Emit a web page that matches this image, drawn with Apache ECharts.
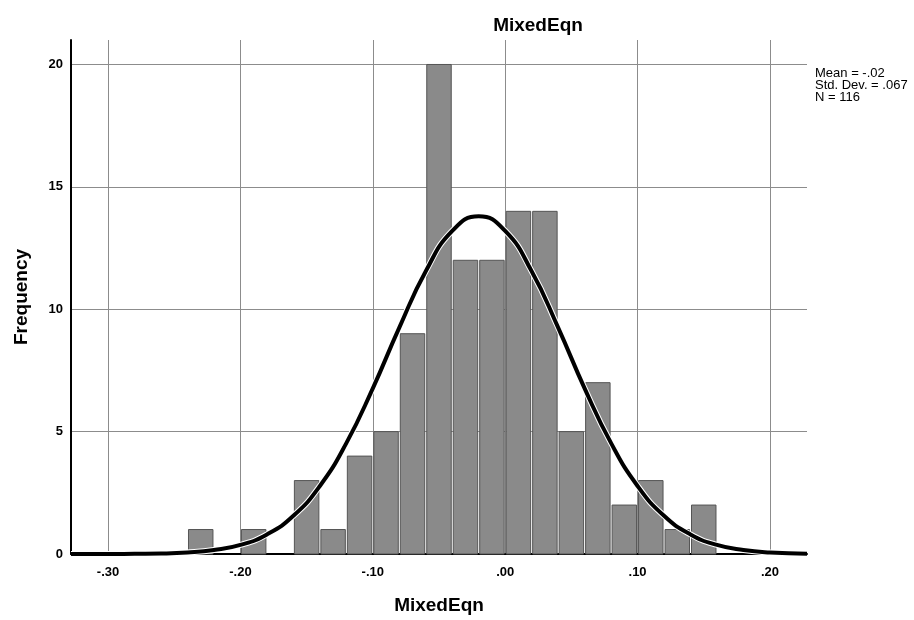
<!doctype html>
<html lang="en">

<head>
	<meta charset="UTF-8">
	<title>MixedEqn</title>
	<script src="https://cdn.jsdelivr.net/npm/echarts@6/dist/echarts.min.js"></script>
	<style>
		html, body { margin: 0; padding: 0; background: #fff; }
		#main { width: 914px; height: 620px; }
	</style>
</head>

<body>
	<div id="main"></div>
	<script type="text/javascript">
		// histogram bins (left edge of each bin, width 0.02) and frequencies
		var binWidth = 0.02;
		var binLefts = [-0.24, -0.22, -0.20, -0.18, -0.16, -0.14, -0.12, -0.10, -0.08, -0.06,
			-0.04, -0.02, 0.00, 0.02, 0.04, 0.06, 0.08, 0.10, 0.12, 0.14];
		var counts = [1, 0, 1, 0, 3, 1, 4, 5, 9, 20,
			12, 12, 14, 14, 5, 7, 2, 3, 1, 2];

		// normal curve
		var curveX = [-0.328, -0.30, -0.28, -0.26, -0.24, -0.22, -0.20, -0.18, -0.16, -0.14, -0.12,
			-0.10, -0.08, -0.06, -0.04, -0.02, 0.00, 0.02, 0.04, 0.06, 0.08,
			0.10, 0.12, 0.14, 0.16, 0.18, 0.20, 0.228];
		var curveY = [0.00, 0.00, 0.01, 0.02, 0.06, 0.16, 0.37, 0.80, 1.56, 2.78, 4.53,
			6.77, 9.25, 11.55, 13.2, 13.8, 13.2, 11.55, 9.25, 6.77, 4.53,
			2.78, 1.56, 0.80, 0.37, 0.16, 0.06, 0.01];

		var statsLines = ['Mean = -.02', 'Std. Dev. = .067', 'N = 116'];

		var barData = [];
		for (var i = 0; i < binLefts.length; i++) {
			if (counts[i] > 0) barData.push([binLefts[i], binLefts[i] + binWidth, counts[i]]);
		}
		var curveData = curveX.map(function (x, i) { return [x, curveY[i]]; });

		var fmtX = function (v) {
			var s = (Math.round(v * 100) / 100).toFixed(2);
			return s.replace('0.', '.');
		};

		var myChart = echarts.init(document.getElementById('main'));
		var option = {
			backgroundColor: '#fff',
			animation: false,
			textStyle: { fontFamily: 'Liberation Sans, Arial, sans-serif' },
			title: {
				text: 'MixedEqn',
				left: 533,
				top: 11,
				textAlign: 'center',
				textStyle: { fontSize: 19, fontWeight: 'bold', color: '#000' }
			},
			grid: { left: 71, right: 107, top: 40, bottom: 64 },
			xAxis: {
				type: 'value',
				min: -0.328,
				max: 0.228,
				splitNumber: 5,
				name: 'MixedEqn',
				nameLocation: 'middle',
				nameGap: 42,
				nameTextStyle: { fontSize: 19, fontWeight: 'bold', color: '#000' },
				axisLine: { onZero: false, lineStyle: { color: '#000', width: 2 } },
				axisTick: { show: false },
				axisLabel: {
					color: '#000', fontSize: 13, fontWeight: 'bold', margin: 12,
					showMinLabel: false, showMaxLabel: false,
					formatter: fmtX
				},
				splitLine: { show: true, showMinLine: false, showMaxLine: false, lineStyle: { color: '#8c8c8c', width: 1 } }
			},
			yAxis: {
				type: 'value',
				min: 0,
				max: 21,
				interval: 5,
				name: 'Frequency',
				nameLocation: 'middle',
				nameGap: 40,
				nameTextStyle: { fontSize: 19, fontWeight: 'bold', color: '#000' },
				axisLine: { show: true, onZero: false, lineStyle: { color: '#000', width: 2 } },
				axisTick: { show: false },
				axisLabel: { color: '#000', fontSize: 13, fontWeight: 'bold', margin: 8, showMaxLabel: false },
				splitLine: { show: true, showMinLine: false, showMaxLine: false, lineStyle: { color: '#8c8c8c', width: 1 } }
			},
			graphic: [{
				type: 'text',
				left: 815,
				top: 67,
				style: {
					text: statsLines.join('\n'),
					font: '13px Liberation Sans, Arial, sans-serif',
					lineHeight: 12,
					fill: '#000'
				}
			}],
			series: [
				{
					type: 'custom',
					z: 2,
					data: barData,
					renderItem: function (params, api) {
						var p0 = api.coord([api.value(0), api.value(2)]);
						var p1 = api.coord([api.value(1), 0]);
						return {
							type: 'rect',
							shape: { x: p0[0] + 1, y: p0[1], width: p1[0] - p0[0] - 2, height: p1[1] - p0[1] },
							style: { fill: '#8a8a8a', stroke: '#555', lineWidth: 1 }
						};
					}
				},
				{
					type: 'line',
					z: 3,
					data: curveData,
					smooth: true,
					symbol: 'none',
					silent: true,
					lineStyle: { color: '#fff', width: 6 }
				},
				{
					type: 'line',
					z: 4,
					data: curveData,
					smooth: true,
					symbol: 'none',
					silent: true,
					lineStyle: { color: '#000', width: 4 }
				}
			]
		};
		myChart.setOption(option);
	</script>
</body>

</html>
